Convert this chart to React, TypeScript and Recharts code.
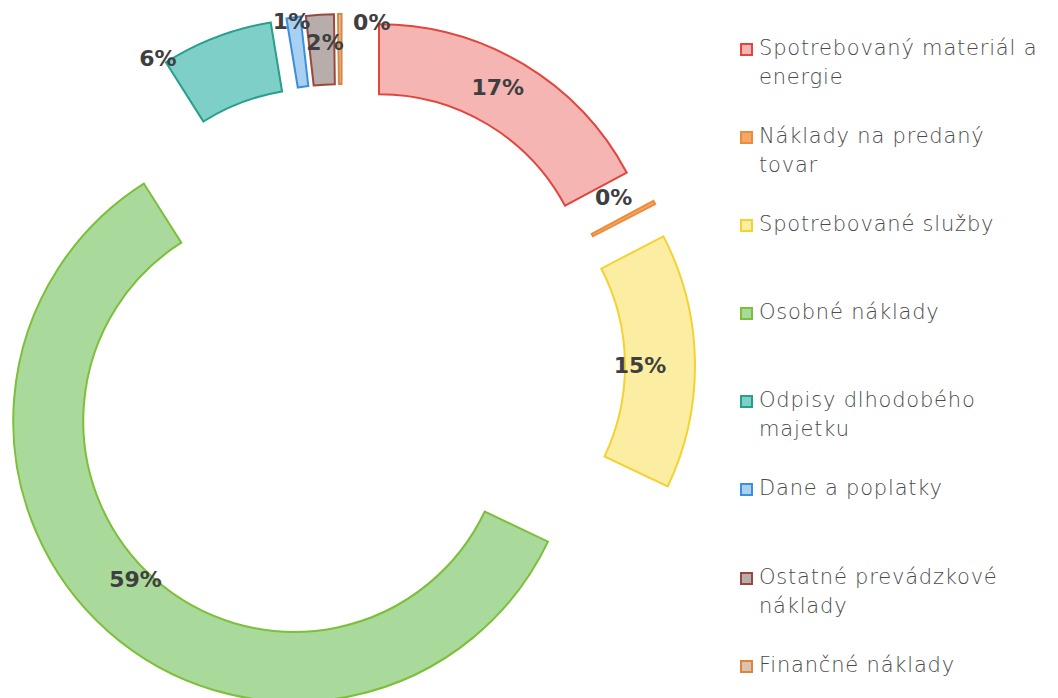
import React from 'react';
import { PieChart, Pie, Cell, Sector, Legend } from 'recharts';

const categories = [
  'Spotrebovaný materiál a energie',
  'Náklady na predaný tovar',
  'Spotrebované služby',
  'Osobné náklady',
  'Odpisy dlhodobého majetku',
  'Dane a poplatky',
  'Ostatné prevádzkové náklady',
  'Finančné náklady',
];
const values = [17.2, 0.2, 14.7, 59.0, 6.4, 0.8, 1.6, 0.2];

const fills = ['#F5B5B2', '#F3A86A', '#FBEEA2', '#A9D99B', '#7ECFC7', '#A7D0F1', '#B7ADAA', '#DCC3B0'];
const strokes = ['#E2453E', '#EE8B3A', '#F4D233', '#7CBF38', '#27A08B', '#3B8FDB', '#9B4740', '#D9873F'];

// label placement: radius from pie centre (px) and angular nudge (deg, compass)
const labelPlace = [
  { r: 320, a: -1.8 },
  { r: 320, a: -4.1 },
  { r: 298, a: 0.7 },
  { r: 296, a: 2.7 },
  { r: 359, a: -10 },
  { r: 349, a: -0.4 },
  { r: 325, a: 0.6 },
  { r: 346, a: 5.3 },
];

const data = categories.map((name, i) => ({ name, value: values[i] }));

const EXPLODE = 72;
const RAD = Math.PI / 180;

const ExplodedSector = (props: any) => {
  const { cx, cy, midAngle, innerRadius, outerRadius, startAngle, endAngle, index } = props;
  const dx = EXPLODE * Math.cos(-midAngle * RAD);
  const dy = EXPLODE * Math.sin(-midAngle * RAD);
  return (
    <Sector
      cx={cx + dx}
      cy={cy + dy}
      innerRadius={innerRadius}
      outerRadius={outerRadius}
      startAngle={startAngle}
      endAngle={endAngle}
      fill={fills[index]}
      stroke={strokes[index]}
      strokeWidth={2}
    />
  );
};

const renderLabel = (props: any) => {
  const { cx, cy, midAngle, percent, index } = props;
  const p = labelPlace[index];
  const ang = (midAngle - p.a) * RAD;
  const x = cx + p.r * Math.cos(-ang);
  const y = cy + p.r * Math.sin(-ang);
  return (
    <text
      x={x}
      y={y}
      textAnchor="middle"
      dominantBaseline="central"
      fill="#3f3f3f"
      fontFamily="'DejaVu Sans', sans-serif"
      fontWeight="bold"
      fontSize={22}
    >
      {Math.round(percent * 100)}%
    </text>
  );
};

const LegendContent = () => (
  <div style={{ fontFamily: "'DejaVu Sans', sans-serif", fontWeight: 200, fontSize: 21, letterSpacing: 0.8, color: '#4a4a4a' }}>
    {categories.map((c, i) => (
      <div key={c} style={{ height: 88.1, display: 'flex', alignItems: 'flex-start' }}>
        <div
          style={{
            width: 9,
            height: 9,
            marginTop: 9,
            marginRight: 6,
            flex: '0 0 auto',
            background: fills[i],
            border: `2px solid ${strokes[i]}`,
          }}
        />
        <div style={{ width: 285, lineHeight: '29px' }}>{c}</div>
      </div>
    ))}
  </div>
);

export default function App() {
  return (
    <div style={{ position: 'absolute', left: 0, top: 0, width: 1058, height: 698, background: '#fff' }}>
      <PieChart width={1058} height={698} margin={{ top: 0, right: 0, bottom: 0, left: 0 }}>
        <Pie
          data={data}
          dataKey="value"
          nameKey="name"
          cx={342}
          cy={367}
          innerRadius={211}
          outerRadius={281}
          startAngle={90}
          endAngle={-270}
          stroke="none"
          shape={ExplodedSector}
          label={renderLabel}
          labelLine={false}
          isAnimationActive={false}
        >
          {data.map((d, i) => (
            <Cell key={d.name} fill={fills[i]} stroke={strokes[i]} />
          ))}
        </Pie>
        <Legend
          layout="vertical"
          align="right"
          verticalAlign="top"
          content={<LegendContent />}
          wrapperStyle={{ left: 740, top: 34, width: 318 }}
        />
      </PieChart>
    </div>
  );
}
